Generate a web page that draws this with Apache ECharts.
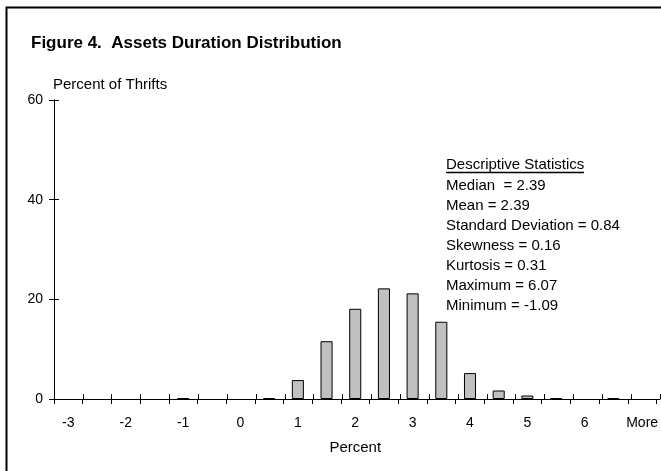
<!DOCTYPE html>
<html>
<head>
<meta charset="utf-8">
<script src="https://cdn.jsdelivr.net/npm/echarts@6/dist/echarts.min.js"></script>
<style>
html,body{margin:0;padding:0;background:#fff;}
#c{width:661px;height:471px;}
</style>
</head>
<body>
<div id="c"></div>
<script>
const categories = ['-3','-2.5','-2','-1.5','-1','-0.5','0','0.5','1','1.5','2','2.5','3','3.5','4','4.5','5','5.5','6','6.5','More'];
const percentOfThrifts = [0,0,0,0,0.2,0,0,0.15,3.8,11.6,18.1,22.2,21.2,15.5,5.2,1.7,0.7,0.15,0,0.15,0];
const yTicks = [0,20,40,60];
const titleText = 'Figure 4.  Assets Duration Distribution';
const yName = 'Percent of Thrifts';
const xName = 'Percent';
const statsTitle = 'Descriptive Statistics';
const statsLines = ['Median  = 2.39','Mean = 2.39','Standard Deviation = 0.84','Skewness = 0.16','Kurtosis = 0.31','Maximum = 6.07','Minimum = -1.09'];

const FONT = '"Liberation Sans", Arial, sans-serif';
const chart = echarts.init(document.getElementById('c'), null, {renderer:'canvas'});

const graphics = [
  {type:'rect', shape:{x:6.5,y:7.5,width:700,height:500}, style:{fill:'none',stroke:'#000',lineWidth:2}, z:-1},
  {type:'text', x:31, y:43, style:{text:titleText, font:'bold 17px '+FONT, fill:'#000', verticalAlign:'middle'}},
  {type:'text', x:53, y:85, style:{text:yName, font:'15px '+FONT, fill:'#000', verticalAlign:'middle'}},
  {type:'text', x:446, y:165, style:{text:statsTitle, font:'15px '+FONT, fill:'#000', verticalAlign:'middle'}},
  {type:'line', shape:{x1:446,y1:172.5,x2:584,y2:172.5}, style:{stroke:'#000',lineWidth:1.5}}
];
statsLines.forEach((t,i)=>{
  graphics.push({type:'text', x:446, y:186+i*20, style:{text:t, font:'15px '+FONT, fill:'#000', verticalAlign:'middle'}});
});

const gridBox = {left:54, right:1, top:100, bottom:72, containLabel:false};

const option = {
  backgroundColor:'#fff',
  animation:false,
  textStyle:{fontFamily:FONT},
  grid:[Object.assign({}, gridBox), Object.assign({}, gridBox)],
  xAxis:[
    {type:'category', gridIndex:0, data:categories, boundaryGap:true,
     axisLine:{lineStyle:{color:'#000',width:1}},
     axisTick:{show:true, inside:false, length:5, interval:0, lineStyle:{color:'#000'}},
     axisLabel:{interval:1, color:'#000', fontSize:14, fontFamily:FONT, margin:17},
     name:xName, nameLocation:'middle', nameGap:41,
     nameTextStyle:{color:'#000', fontSize:15, fontFamily:FONT}},
    {type:'category', gridIndex:1, data:categories, boundaryGap:true,
     axisLine:{show:true, lineStyle:{color:'#000',width:1}},
     axisTick:{show:true, inside:true, length:5, interval:0, lineStyle:{color:'#000'}},
     axisLabel:{show:false}}
  ],
  yAxis:[
    {type:'value', gridIndex:0, min:yTicks[0], max:yTicks[yTicks.length-1], interval:20,
     axisLine:{show:true, lineStyle:{color:'#000',width:1}},
     axisTick:{show:true, inside:false, length:5, lineStyle:{color:'#000'}},
     axisLabel:{color:'#000', fontSize:14, fontFamily:FONT, margin:11},
     splitLine:{show:false}},
    {type:'value', gridIndex:1, min:yTicks[0], max:yTicks[yTicks.length-1], interval:20,
     axisLine:{show:true, lineStyle:{color:'#000',width:1}},
     axisTick:{show:true, inside:true, length:5, lineStyle:{color:'#000'}},
     axisLabel:{show:false}, splitLine:{show:false}}
  ],
  series:[{
    type:'bar', xAxisIndex:0, yAxisIndex:0,
    data:percentOfThrifts.map(v => v === 0 ? '-' : v), barWidth:'42%',
    itemStyle:{color:'#c0c0c0', borderColor:'#000', borderWidth:1}, z:3
  },{
    type:'bar', xAxisIndex:1, yAxisIndex:1, data:[], silent:true
  }],
  graphic:graphics
};
chart.setOption(option);
</script>
</body>
</html>
